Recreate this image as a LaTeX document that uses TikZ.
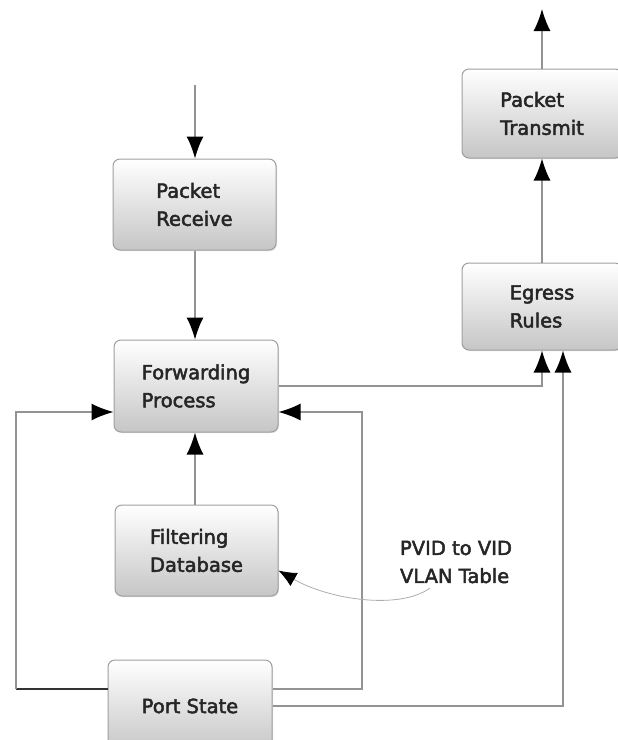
\documentclass[tikz,border=0pt]{standalone}
\usepackage{fontspec}
\setmainfont{DejaVu Sans}
\newfontfamily\boxfont{DejaVu Sans}[FakeBold=2.5]
\usetikzlibrary{arrows.meta,shadows}
\tikzset{box/.style={draw=gray!75, line width=1pt, rounded corners=7pt,
    top color=white, bottom color=gray!45, align=left, text=black!85,
    font=\boxfont\fontsize{19.5}{28}\selectfont,
    drop shadow={shadow xshift=1pt, shadow yshift=-1pt, opacity=0.25}}}
\tikzset{link/.style={draw=gray!85, line width=1.3pt}}
\tikzset{arrow/.style={link, -{Latex[length=22pt, width=17pt, color=black]}}}
\tikzset{thickline/.style={draw=black!80, line width=2.6pt}}

\begin{document}
\begin{tikzpicture}[x=1pt, y=-1pt]
      \useasboundingbox (0, 0) rectangle (618, 740);

      \node[box, minimum width=163pt, minimum height=91pt] (recv) at (194.5, 204.5) {Packet\\Receive};
      \node[box, minimum width=164pt, minimum height=92pt] (fwd) at (196, 386) {Forwarding\\Process};
      \node[box, minimum width=163pt, minimum height=91pt] (filt) at (196.5, 550.5) {Filtering\\Database};
      \node[box, minimum width=164pt, minimum height=92pt] (port) at (190, 706) {Port State};
      \node[box, minimum width=160pt, minimum height=87pt] (egress) at (542, 306.5) {Egress\\Rules};
      \node[box, minimum width=160pt, minimum height=89pt] (trans) at (542, 113.5) {Packet\\Transmit};

      \node[align=left, inner sep=0pt, text=black!85, font=\boxfont\fontsize{19.5}{28}\selectfont] (vlan) at (456, 562) {PVID to VID\\VLAN Table};

      \coordinate (in) at (195, 85);
      \coordinate (out) at (542, 9);
      \coordinate (rt) at (362, 412);
      \coordinate (lt) at (16, 689);
      \coordinate (vt) at (430, 588);

      \draw[arrow] (in) -- (in |- recv.north);
      \draw[arrow] (recv.south -| in) -- (fwd.north -| in);
      \draw[arrow] (filt.north -| in) -- (fwd.south -| in);
      \draw[arrow] (fwd.east) -| (egress.south);
      \draw[arrow] (port.east) -| ([xshift=21pt]egress.south);
      \draw[arrow] ([yshift=17pt]port.east) -| (rt) -- (rt -| fwd.east);
      \draw[thickline] ([yshift=17pt]port.west) -- (lt);
      \draw[arrow] (lt) |- (rt -| fwd.west);
      \draw[arrow] (egress.north) -- (trans.south);
      \draw[arrow] (trans.north) -- (out);

      \draw[draw=gray!65, line width=0.8pt, -{Latex[length=18pt, width=15pt, color=black]}]
        (vt) .. controls (400, 610) and (330, 600) .. ([yshift=-20pt]filt.east);
    \end{tikzpicture}
\end{document}
